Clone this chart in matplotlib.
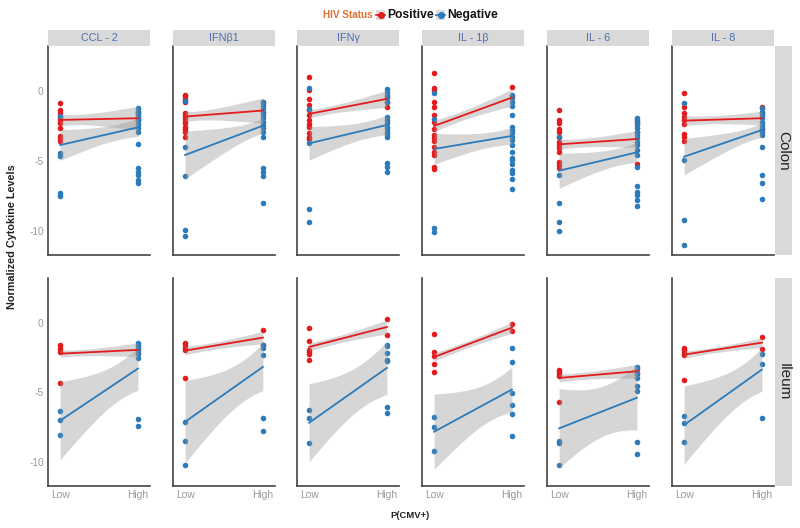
import numpy as np
import matplotlib
matplotlib.use("Agg")
import matplotlib.pyplot as plt
from matplotlib.patches import Rectangle
from matplotlib.lines import Line2D

plt.rcParams["font.family"] = ["Liberation Sans", "DejaVu Sans"]

cytokines = ["CCL - 2", "IFNβ1", "IFNγ", "IL - 1β", "IL - 6", "IL - 8"]
tissues = ["Colon", "Ileum"]
x_levels = ["Low", "High"]
legend_labels = ["Positive", "Negative"]

# ---- Colon points (per cytokine) ----
colon_pos_low = [
    [-0.88, -1.36, -1.6, -1.79, -1.95, -2.12, -2.31, -2.67, -3.2, -3.38, -3.55],
    [-0.29, -0.4, -0.57, -0.76, -1.6, -1.79, -1.95, -2.12, -2.31, -2.55, -2.74, -2.9, -3.31],
    [1.02, 0.07, -0.57, -1.0, -1.36, -1.71, -2.07, -2.36, -2.6, -3.02, -3.26, -3.45],
    [1.26, 0.19, 0.07, -0.76, -1.17, -1.71, -2.19, -2.74, -3.14, -3.38, -3.55, -3.98, -4.33, -4.57, -5.4, -5.6],
    [-1.36, -2.07, -2.31, -2.71, -2.9, -3.31, -3.62, -3.86, -4.1, -4.33, -5.05, -5.29, -5.52],
    [-0.17, -1.12, -1.6, -1.88, -2.07, -2.38, -3.1, -3.31, -3.57],
]
colon_pos_high = [
    [-1.6, -2.1],
    [-0.76, -1.5],
    [-0.4, -0.76, -1.12],
    [0.31, -0.4],
    [-2.07, -2.26, -2.9, -5.24],
    [-1.17, -1.6, -2.71],
]
colon_neg_low = [
    [-1.8, -4.45, -4.64, -7.31, -7.48],
    [-0.7, -3.98, -6.05, -9.93, -10.36],
    [0.19, -1.31, -3.74, -8.43, -9.33],
    [-0.17, -2.02, -9.81, -10.05],
    [-3.31, -6.0, -8.02, -9.33, -9.98],
    [-0.83, -4.93, -9.17, -11.0],
]
colon_neg_high = [
    [-1.24, -1.36, -1.48, -1.6, -1.71, -1.83, -1.95, -2.07, -2.26, -2.43, -2.67, -2.9, -3.78, -5.52, -5.76, -6.0, -6.36, -6.6],
    [-0.76, -1.0, -1.24, -1.48, -1.71, -1.95, -2.19, -2.43, -2.67, -2.9, -3.31, -5.52, -5.76, -6.05, -7.98],
    [0.12, -0.05, -0.29, -0.52, -0.76, -1.83, -2.07, -2.31, -2.55, -2.74, -2.9, -3.07, -3.26, -5.17, -5.4, -5.76],
    [-0.29, -0.52, -0.76, -1.07, -1.71, -2.6, -2.79, -3.02, -3.26, -3.5, -3.86, -4.33, -4.76, -4.93, -5.24, -5.64, -5.88, -6.31, -7.02],
    [-1.95, -2.19, -2.43, -2.67, -2.9, -3.14, -3.38, -3.62, -3.86, -4.21, -4.57, -5.4, -6.79, -7.19, -7.43, -7.79, -8.21],
    [-1.24, -1.48, -1.71, -1.95, -2.19, -2.43, -2.67, -2.9, -3.14, -4.0, -6.0, -6.55, -7.74],
]

# ---- Ileum points ----
ileum_pos_low = [
    [-1.62, -1.79, -1.95, -2.1, -4.29],
    [-1.45, -1.62, -1.79, -1.98, -3.95],
    [-0.38, -1.33, -1.93, -2.1, -2.26, -2.64],
    [-0.79, -2.1, -2.41, -2.98, -3.53],
    [-3.36, -3.53, -3.69, -3.84, -5.71],
    [-1.81, -1.98, -2.17, -2.29, -4.12],
]
ileum_pos_high = [
    [-1.91, -2.17],
    [-0.55, -1.57],
    [0.24, -0.85],
    [-0.07, -0.6],
    [-3.33, -3.65],
    [-1.0, -1.86],
]
ileum_neg_low = [
    [-6.31, -6.98, -8.05],
    [-7.1, -8.48, -10.19],
    [-6.26, -6.86, -8.6],
    [-6.79, -7.45, -9.17],
    [-8.46, -8.65, -10.19],
    [-6.67, -7.17, -8.53],
]
ileum_neg_high = [
    [-1.43, -1.62, -1.74, -1.93, -2.21, -2.5, -6.93, -7.38],
    [-1.57, -1.79, -2.29, -6.81, -7.74],
    [-1.57, -1.69, -2.14, -2.69, -2.75, -6.07, -6.5],
    [-1.79, -2.81, -5.07, -5.9, -6.57, -8.12],
    [-3.17, -3.6, -3.96, -4.55, -4.9, -8.53, -9.4],
    [-2.21, -2.98, -6.81],
]

# ---- Fitted lines (value at Low, value at High) and CI half-widths ----
colon_pos_fit = [(-2.07, -1.95), (-1.83, -1.4), (-1.64, -0.57), (-2.5, -0.48), (-3.81, -3.43), (-2.12, -1.95)]
colon_pos_ci = [(0.4, 0.85), (0.35, 0.9), (0.3, 0.6), (0.4, 0.6), (0.35, 0.6), (0.35, 0.5)]
colon_neg_fit = [(-3.86, -2.6), (-4.57, -2.48), (-3.74, -2.43), (-4.14, -3.21), (-5.69, -4.38), (-4.69, -2.79)]
colon_neg_ci = [(1.1, 0.65), (1.7, 0.55), (1.2, 0.7), (1.1, 0.6), (1.25, 0.7), (1.3, 0.5)]
ileum_pos_fit = [(-2.22, -1.95), (-2.0, -1.07), (-1.74, -0.31), (-2.46, -0.36), (-3.96, -3.48), (-2.29, -1.43)]
ileum_pos_ci = [(0.25, 0.5), (0.3, 0.45), (0.3, 0.5), (0.3, 0.4), (0.3, 0.5), (0.25, 0.35)]
ileum_neg_fit = [(-7.02, -3.29), (-7.1, -3.17), (-7.17, -3.24), (-7.81, -4.79), (-7.57, -5.38), (-7.33, -3.36)]
ileum_neg_ci = [(2.8, 1.55), (2.95, 1.7), (2.8, 1.9), (2.7, 1.6), (2.85, 2.3), (2.8, 1.55)]

RED = "#e41a1c"
BLUE = "#2b7bba"
STRIP = "#d9d9d9"
STRIP_TXT = "#4a72b0"
TICK_TXT = "#9a9a9a"

W, H = 800, 528
fig = plt.figure(figsize=(8, 5.28), dpi=100)


def fbox(left, top, right, bottom):
    return [left / W, (H - bottom) / H, (right - left) / W, (bottom - top) / H]


lefts = [48, 173, 297, 422, 547, 672]
pw = 102
rows = [(46, 255), (278, 486)]

data = {
    0: (colon_pos_low, colon_pos_high, colon_neg_low, colon_neg_high,
        colon_pos_fit, colon_pos_ci, colon_neg_fit, colon_neg_ci),
    1: (ileum_pos_low, ileum_pos_high, ileum_neg_low, ileum_neg_high,
        ileum_pos_fit, ileum_pos_ci, ileum_neg_fit, ileum_neg_ci),
}

xs = np.linspace(1, 2, 60)
for r, (top, bot) in enumerate(rows):
    pl, ph, nl, nh, pf, pc, nf, nc = data[r]
    for c, lx in enumerate(lefts):
        ax = fig.add_axes(fbox(lx, top, lx + pw, bot))
        for lows, highs, col in ((pl[c], ph[c], RED), (nl[c], nh[c], BLUE)):
            ax.scatter(np.full(len(lows), 1.0), lows, s=16, color=col, zorder=2, linewidths=0)
            ax.scatter(np.full(len(highs), 2.0), highs, s=16, color=col, zorder=2, linewidths=0)
        for fit, ci, col in ((pf[c], pc[c], RED), (nf[c], nc[c], BLUE)):
            t = xs - 1
            yfit = fit[0] + (fit[1] - fit[0]) * t
            hw = np.sqrt(((1 - t) * ci[0]) ** 2 + (t * ci[1]) ** 2)
            ax.fill_between(xs, yfit - hw, yfit + hw, color="#999999", alpha=0.4, lw=0, zorder=3)
            ax.plot(xs, yfit, color=col, lw=1.3, zorder=4)
        ax.set_xlim(0.844, 2.156)
        ax.set_ylim(-11.7, 3.2)
        ax.set_facecolor("white")
        for s in ("top", "right"):
            ax.spines[s].set_visible(False)
        for s in ("left", "bottom"):
            ax.spines[s].set_color("#444444")
            ax.spines[s].set_linewidth(1.2)
        ax.tick_params(length=0, labelsize=7.4, labelcolor=TICK_TXT, pad=3)
        ax.set_xticks([1, 2])
        ax.set_yticks([0, -5, -10])
        ax.set_yticklabels(["0", "-5", "-10"])
        if r == 1:
            ax.set_xticklabels(x_levels)
        else:
            ax.set_xticklabels([])
        if c != 0:
            ax.set_yticklabels([])
        if r == 0:
            sax = fig.add_axes(fbox(lx, 30, lx + pw, 46))
            sax.set_facecolor(STRIP)
            sax.set_xticks([]); sax.set_yticks([])
            for s in sax.spines.values():
                s.set_visible(False)
            sax.text(0.5, 0.5, cytokines[c], ha="center", va="center",
                     fontsize=7.8, color=STRIP_TXT, transform=sax.transAxes)
    rax = fig.add_axes(fbox(775, top, 792, bot))
    rax.set_facecolor(STRIP)
    rax.set_xticks([]); rax.set_yticks([])
    for s in rax.spines.values():
        s.set_visible(False)
    rax.text(0.5, 0.5, tissues[r], ha="center", va="center", rotation=270,
             fontsize=11, color="#222222", transform=rax.transAxes)

# axis titles
fig.text(12 / W, 1 - 237 / H, "Normalized Cytokine Levels", rotation=90,
         ha="center", va="center", fontsize=7.8, fontweight="bold", color="#222222")
fig.text(410 / W, 1 - 516 / H, "P(CMV+)", ha="center", va="center",
         fontsize=6.8, fontweight="bold", color="#222222")

# legend
ly = 1 - 15 / H
fig.text(323 / W, ly, "HIV Status", ha="left", va="center", fontsize=7.2,
         fontweight="bold", color="#e07030")
for kx, col, lab, tx in ((376, RED, legend_labels[0], 387), (436, BLUE, legend_labels[1], 447)):
    fig.add_artist(Rectangle((kx / W, 1 - 19.5 / H), 9 / W, 9 / H, transform=fig.transFigure,
                             facecolor="#dddddd", edgecolor="none"))
    fig.add_artist(Line2D([kx / W, (kx + 9) / W], [1 - 15 / H] * 2, transform=fig.transFigure,
                          color=col, lw=1.2))
    fig.add_artist(Line2D([(kx + 4.5) / W], [1 - 15 / H], transform=fig.transFigure,
                          marker="o", markersize=4, color=col, lw=0))
    fig.text(tx / W, ly, lab, ha="left", va="center", fontsize=8.7,
             fontweight="bold", color="#111111")

fig.savefig("out.png", dpi=100, facecolor="white")
